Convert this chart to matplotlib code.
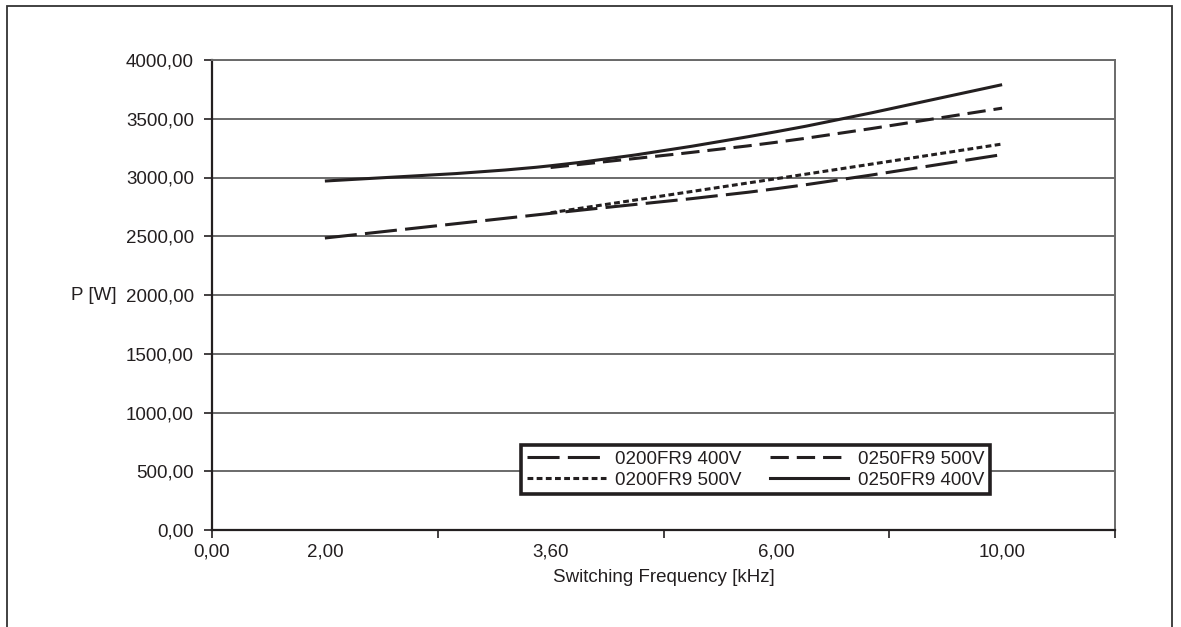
import matplotlib
matplotlib.use("Agg")
import matplotlib.pyplot as plt
from matplotlib.path import Path
from matplotlib.patches import PathPatch, Rectangle
from matplotlib.lines import Line2D
from matplotlib.ticker import FuncFormatter
import numpy as np

# ---- data ----
freq_labels = ["2,00", "3,60", "6,00", "10,00"]
p_0200_400 = [2485, 2695, 2905, 3195]
p_0200_500 = [None, 2700, 2990, 3285]
p_0250_500 = [None, 3085, 3300, 3590]
p_0250_400 = [2970, 3100, 3390, 3790]
series_names = ["0200FR9 400V", "0200FR9 500V", "0250FR9 500V", "0250FR9 400V"]
y_ticks = list(range(0, 4001, 500))

plt.rcParams['font.family'] = ['Liberation Sans', 'DejaVu Sans']
W, H = 1181, 627
fig = plt.figure(figsize=(W / 100, H / 100), dpi=100)
ax = fig.add_axes([212 / W, 97 / H, 903 / W, 470 / H])

ink = '#231f20'
grid_c = '#6a6a6a'
lw = 2.2
fs = 13.5


def smooth_path(xs, ys):
    pts = np.column_stack([xs, ys]).astype(float)
    n = len(pts)
    verts = [pts[0]]
    codes = [Path.MOVETO]
    for i in range(n - 1):
        p0 = pts[i - 1] if i > 0 else pts[i]
        p1 = pts[i]
        p2 = pts[i + 1]
        p3 = pts[i + 2] if i + 2 < n else pts[i + 1]
        c1 = p1 + (p2 - p0) / 6.0
        c2 = p2 - (p3 - p1) / 6.0
        verts += [c1, c2, p2]
        codes += [Path.CURVE4] * 3
    return Path(verts, codes)


styles = {
    "0200FR9 400V": (0, (10.5, 2.7)),
    "0200FR9 500V": (0, (1.9, 1.1)),
    "0250FR9 500V": (0, (6.0, 2.6)),
    "0250FR9 400V": '-',
}
data = {
    "0200FR9 400V": p_0200_400,
    "0200FR9 500V": p_0200_500,
    "0250FR9 500V": p_0250_500,
    "0250FR9 400V": p_0250_400,
}

ax.set_xlim(0, 4)
ax.set_ylim(0, 4000)

# gridlines
ax.set_yticks(y_ticks)
ax.yaxis.set_major_formatter(FuncFormatter(lambda v, p: f"{v:.2f}".replace('.', ',')))
ax.grid(axis='y', color=grid_c, lw=1.4)
ax.set_axisbelow(True)

for name in series_names:
    vals = data[name]
    xs = [i + 0.5 for i, v in enumerate(vals) if v is not None]
    ys = [v for v in vals if v is not None]
    patch = PathPatch(smooth_path(xs, ys), fill=False, edgecolor=ink, lw=lw,
                      linestyle=styles[name], capstyle='butt', zorder=3)
    ax.add_patch(patch)

# x axis: category ticks
ax.set_xticks([0, 1, 2, 3, 4])
ax.set_xticklabels(["0,00", "", "", "", ""], fontsize=fs, color=ink)
ax.set_xticks([i + 0.5 for i in range(len(freq_labels))], minor=True)
ax.set_xticklabels(freq_labels, minor=True, fontsize=fs, color=ink)
ax.tick_params(axis='x', which='minor', length=0, pad=10)
ax.tick_params(axis='x', which='major', length=6, width=1.2, color=ink,
               direction='out', pad=4)
ax.tick_params(axis='y', length=6, width=1.2, color=ink, labelsize=fs,
               labelcolor=ink, pad=7)

for s in ['left', 'bottom']:
    ax.spines[s].set_color(ink)
    ax.spines[s].set_linewidth(1.6)
for s in ['top', 'right']:
    ax.spines[s].set_color(grid_c)
    ax.spines[s].set_linewidth(1.4)

ax.set_xlabel("Switching Frequency [kHz]", fontsize=fs, color=ink, labelpad=6)
fig.text(117 / W, 1 - 296 / H, "P [W]", fontsize=fs, color=ink, ha='right', va='center')

handles = [Line2D([], [], color=ink, lw=lw, linestyle=styles[n], dash_capstyle='butt')
           for n in series_names]
leg = ax.legend(handles, series_names, ncol=2, loc='center',
                bbox_to_anchor=(0.602, 0.128), fontsize=fs, frameon=True,
                fancybox=False, handlelength=4.2, columnspacing=1.5,
                handletextpad=0.5, labelspacing=0.2, borderpad=0.3,
                borderaxespad=0)
leg.get_frame().set_edgecolor(ink)
leg.get_frame().set_linewidth(2.6)
leg.get_frame().set_alpha(1)
for t in leg.get_texts():
    t.set_color(ink)

# outer frame
fig.patches.append(Rectangle((7 / W, -0.2), (1172 - 7) / W, 1.2 - 6 / H,
                             transform=fig.transFigure, fill=False,
                             edgecolor='#333333', lw=1.3))

fig.savefig("out.png", dpi=100)
